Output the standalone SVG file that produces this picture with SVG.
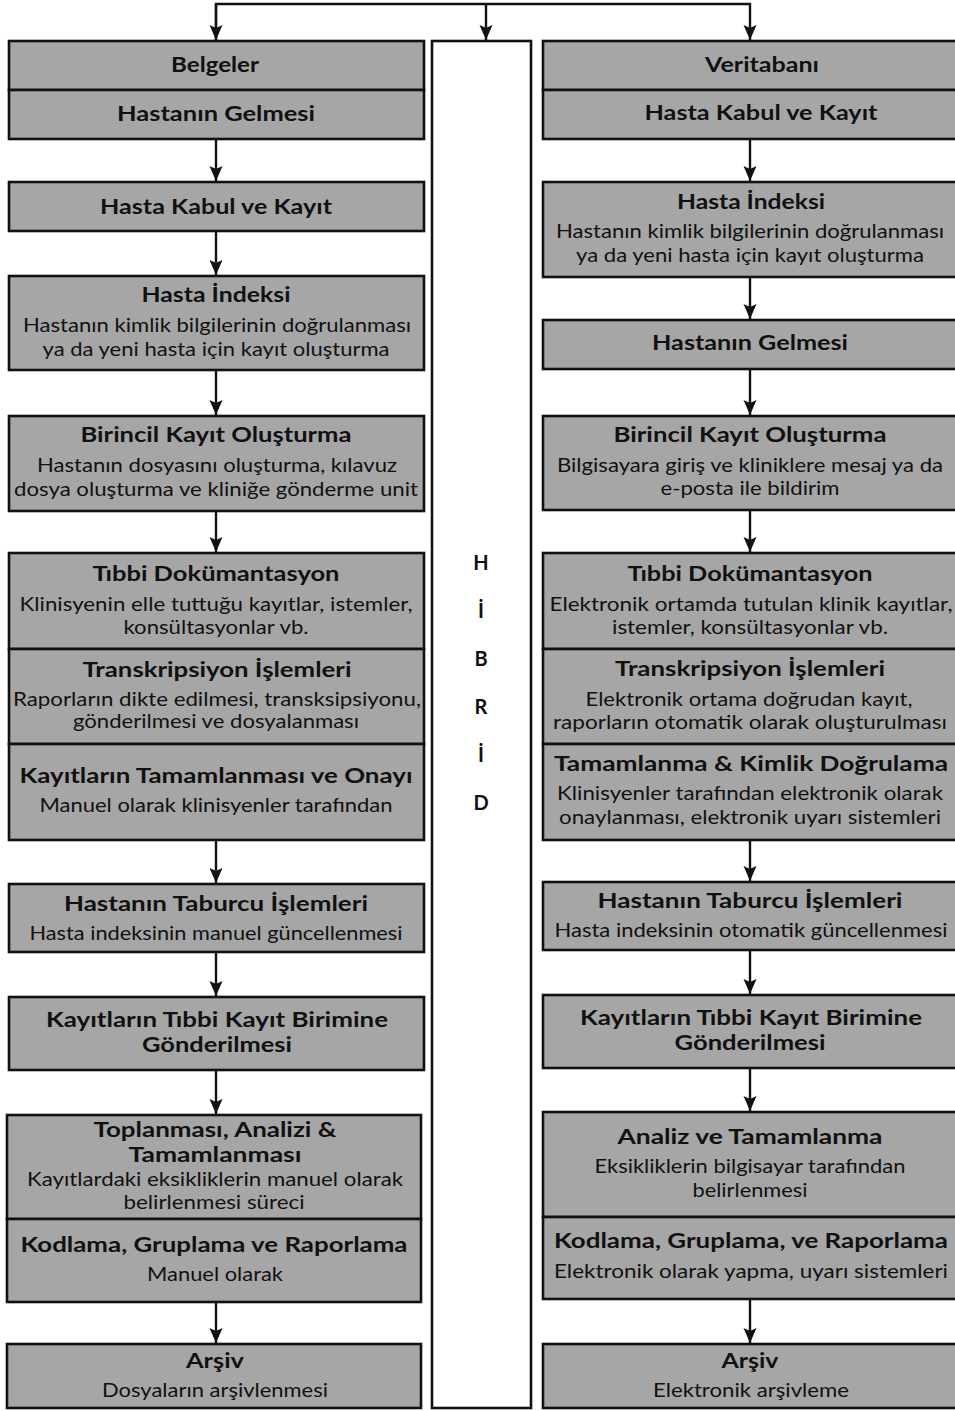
<svg xmlns="http://www.w3.org/2000/svg" width="955" height="1411" viewBox="0 0 955 1411">
<style>
.bx{fill:#a6a6a6;stroke:#111;stroke-width:2.6}
.mid{fill:#fff;stroke:#111;stroke-width:2.6}
.t{font-family:Lato,"Liberation Sans",sans-serif;font-weight:bold;font-size:20px;fill:#111;text-anchor:middle}
.s{font-family:Lato,"Liberation Sans",sans-serif;font-size:20px;fill:#111;text-anchor:middle}
.c{fill:none;stroke:#111;stroke-width:2.4}
</style>
<defs>
<marker id="ah" markerUnits="userSpaceOnUse" markerWidth="16" markerHeight="14" refX="15" refY="7" orient="auto">
<path d="M0,0.5 L15,7 L0,13.5 L3,7 Z" fill="#111"/>
</marker>
</defs>
<rect width="955" height="1411" fill="#fff"/>

<g id="connectors">
<path class="c" d="M216,40 V4 H750 V40" marker-end="url(#ah)"/>
<path class="c" d="M486,4 V40" marker-end="url(#ah)"/>
<path class="c" d="M216,4 V40" marker-end="url(#ah)"/>
<path class="c" d="M216,140 V181" marker-end="url(#ah)"/>
<path class="c" d="M216,232 V275" marker-end="url(#ah)"/>
<path class="c" d="M216,371 V415" marker-end="url(#ah)"/>
<path class="c" d="M216,512 V552" marker-end="url(#ah)"/>
<path class="c" d="M216,841 V883" marker-end="url(#ah)"/>
<path class="c" d="M216,953 V996" marker-end="url(#ah)"/>
<path class="c" d="M216,1071 V1114" marker-end="url(#ah)"/>
<path class="c" d="M216,1303 V1343" marker-end="url(#ah)"/>
<path class="c" d="M750,140 V181" marker-end="url(#ah)"/>
<path class="c" d="M750,278 V319" marker-end="url(#ah)"/>
<path class="c" d="M750,370 V415" marker-end="url(#ah)"/>
<path class="c" d="M750,511 V552" marker-end="url(#ah)"/>
<path class="c" d="M750,841 V881" marker-end="url(#ah)"/>
<path class="c" d="M750,951 V994" marker-end="url(#ah)"/>
<path class="c" d="M750,1069 V1111" marker-end="url(#ah)"/>
<path class="c" d="M750,1300 V1343" marker-end="url(#ah)"/>
</g>

<g id="hibrid">
<rect class="mid" x="432" y="41" width="99" height="1367"/>
<text class="t" x="481" y="570">H</text>
<text class="t" x="481" y="618">İ</text>
<text class="t" x="481" y="666">B</text>
<text class="t" x="481" y="714">R</text>
<text class="t" x="481" y="762">İ</text>
<text class="t" x="481" y="810">D</text>
</g>

<!-- LEFT COLUMN -->
<g id="L-belgeler">
<rect class="bx" x="9" y="41" width="415" height="49"/>
<text class="t" x="215" y="72" textLength="88" lengthAdjust="spacingAndGlyphs">Belgeler</text>
</g>
<g id="L-gelmesi">
<rect class="bx" x="9" y="90" width="415" height="49"/>
<text class="t" x="216" y="121" textLength="198" lengthAdjust="spacingAndGlyphs">Hastanın Gelmesi</text>
</g>
<g id="L-kabul">
<rect class="bx" x="9" y="182" width="415" height="49"/>
<text class="t" x="216" y="214" textLength="232" lengthAdjust="spacingAndGlyphs">Hasta Kabul ve Kayıt</text>
</g>
<g id="L-indeks">
<rect class="bx" x="9" y="276" width="415" height="94"/>
<text class="t" x="216" y="302" textLength="149" lengthAdjust="spacingAndGlyphs">Hasta İndeksi</text>
<text class="s" x="217" y="332" textLength="388" lengthAdjust="spacingAndGlyphs">Hastanın kimlik bilgilerinin doğrulanması</text>
<text class="s" x="216" y="356" textLength="347" lengthAdjust="spacingAndGlyphs">ya da yeni hasta için kayıt oluşturma</text>
</g>
<g id="L-birincil">
<rect class="bx" x="9" y="416" width="415" height="95"/>
<text class="t" x="216" y="442" textLength="271" lengthAdjust="spacingAndGlyphs">Birincil Kayıt Oluşturma</text>
<text class="s" x="217" y="472" textLength="360" lengthAdjust="spacingAndGlyphs">Hastanın dosyasını oluşturma, kılavuz</text>
<text class="s" x="216" y="496" textLength="404" lengthAdjust="spacingAndGlyphs">dosya oluşturma ve kliniğe gönderme unit</text>
</g>
<g id="L-tibbi">
<rect class="bx" x="9" y="553" width="415" height="96"/>
<text class="t" x="216" y="581" textLength="247" lengthAdjust="spacingAndGlyphs">Tıbbi Dokümantasyon</text>
<text class="s" x="216" y="611" textLength="393" lengthAdjust="spacingAndGlyphs">Klinisyenin elle tuttuğu kayıtlar, istemler,</text>
<text class="s" x="216" y="634" textLength="185" lengthAdjust="spacingAndGlyphs">konsültasyonlar vb.</text>
</g>
<g id="L-transkripsiyon">
<rect class="bx" x="9" y="649" width="415" height="95"/>
<text class="t" x="217" y="677" textLength="269" lengthAdjust="spacingAndGlyphs">Transkripsiyon İşlemleri</text>
<text class="s" x="217" y="706" textLength="408" lengthAdjust="spacingAndGlyphs">Raporların dikte edilmesi, transksipsiyonu,</text>
<text class="s" x="216" y="728" textLength="286" lengthAdjust="spacingAndGlyphs">gönderilmesi ve dosyalanması</text>
</g>
<g id="L-tamamlanma">
<rect class="bx" x="9" y="744" width="415" height="96"/>
<text class="t" x="216" y="783" textLength="393" lengthAdjust="spacingAndGlyphs">Kayıtların Tamamlanması ve Onayı</text>
<text class="s" x="216" y="812" textLength="353" lengthAdjust="spacingAndGlyphs">Manuel olarak klinisyenler tarafından</text>
</g>
<g id="L-taburcu">
<rect class="bx" x="9" y="884" width="415" height="68"/>
<text class="t" x="216" y="911" textLength="304" lengthAdjust="spacingAndGlyphs">Hastanın Taburcu İşlemleri</text>
<text class="s" x="216" y="940" textLength="373" lengthAdjust="spacingAndGlyphs">Hasta indeksinin manuel güncellenmesi</text>
</g>
<g id="L-gonderim">
<rect class="bx" x="9" y="997" width="415" height="73"/>
<text class="t" x="217" y="1027" textLength="342" lengthAdjust="spacingAndGlyphs">Kayıtların Tıbbi Kayıt Birimine</text>
<text class="t" x="217" y="1052" textLength="150" lengthAdjust="spacingAndGlyphs">Gönderilmesi</text>
</g>
<g id="L-analiz">
<rect class="bx" x="7" y="1115" width="414" height="104"/>
<text class="t" x="215" y="1137" textLength="243" lengthAdjust="spacingAndGlyphs">Toplanması, Analizi &amp;</text>
<text class="t" x="215" y="1162" textLength="173" lengthAdjust="spacingAndGlyphs">Tamamlanması</text>
<text class="s" x="215" y="1186" textLength="376" lengthAdjust="spacingAndGlyphs">Kayıtlardaki eksikliklerin manuel olarak</text>
<text class="s" x="214" y="1209" textLength="181" lengthAdjust="spacingAndGlyphs">belirlenmesi süreci</text>
</g>
<g id="L-kodlama">
<rect class="bx" x="7" y="1219" width="414" height="83"/>
<text class="t" x="214" y="1252" textLength="387" lengthAdjust="spacingAndGlyphs">Kodlama, Gruplama ve Raporlama</text>
<text class="s" x="215" y="1281" textLength="136" lengthAdjust="spacingAndGlyphs">Manuel olarak</text>
</g>
<g id="L-arsiv">
<rect class="bx" x="7" y="1344" width="414" height="64"/>
<text class="t" x="215" y="1368" textLength="58" lengthAdjust="spacingAndGlyphs">Arşiv</text>
<text class="s" x="215" y="1397" textLength="226" lengthAdjust="spacingAndGlyphs">Dosyaların arşivlenmesi</text>
</g>

<!-- RIGHT COLUMN -->
<g id="R-veritabani">
<rect class="bx" x="543" y="41" width="420" height="49"/>
<text class="t" x="762" y="72" textLength="114" lengthAdjust="spacingAndGlyphs">Veritabanı</text>
</g>
<g id="R-kabul">
<rect class="bx" x="543" y="90" width="420" height="49"/>
<text class="t" x="761" y="120" textLength="233" lengthAdjust="spacingAndGlyphs">Hasta Kabul ve Kayıt</text>
</g>
<g id="R-indeks">
<rect class="bx" x="543" y="182" width="420" height="95"/>
<text class="t" x="751" y="209" textLength="148" lengthAdjust="spacingAndGlyphs">Hasta İndeksi</text>
<text class="s" x="750" y="238" textLength="388" lengthAdjust="spacingAndGlyphs">Hastanın kimlik bilgilerinin doğrulanması</text>
<text class="s" x="750" y="262" textLength="348" lengthAdjust="spacingAndGlyphs">ya da yeni hasta için kayıt oluşturma</text>
</g>
<g id="R-gelmesi">
<rect class="bx" x="543" y="320" width="420" height="49"/>
<text class="t" x="750" y="350" textLength="196" lengthAdjust="spacingAndGlyphs">Hastanın Gelmesi</text>
</g>
<g id="R-birincil">
<rect class="bx" x="543" y="416" width="420" height="94"/>
<text class="t" x="750" y="442" textLength="273" lengthAdjust="spacingAndGlyphs">Birincil Kayıt Oluşturma</text>
<text class="s" x="750" y="472" textLength="386" lengthAdjust="spacingAndGlyphs">Bilgisayara giriş ve kliniklere mesaj ya da</text>
<text class="s" x="750" y="495" textLength="179" lengthAdjust="spacingAndGlyphs">e-posta ile bildirim</text>
</g>
<g id="R-tibbi">
<rect class="bx" x="543" y="553" width="420" height="96"/>
<text class="t" x="750" y="581" textLength="245" lengthAdjust="spacingAndGlyphs">Tıbbi Dokümantasyon</text>
<text class="s" x="751" y="611" textLength="403" lengthAdjust="spacingAndGlyphs">Elektronik ortamda tutulan klinik kayıtlar,</text>
<text class="s" x="750" y="634" textLength="276" lengthAdjust="spacingAndGlyphs">istemler, konsültasyonlar vb.</text>
</g>
<g id="R-transkripsiyon">
<rect class="bx" x="543" y="649" width="420" height="95"/>
<text class="t" x="750" y="676" textLength="270" lengthAdjust="spacingAndGlyphs">Transkripsiyon İşlemleri</text>
<text class="s" x="749" y="706" textLength="327" lengthAdjust="spacingAndGlyphs">Elektronik ortama doğrudan kayıt,</text>
<text class="s" x="750" y="729" textLength="394" lengthAdjust="spacingAndGlyphs">raporların otomatik olarak oluşturulması</text>
</g>
<g id="R-tamamlanma">
<rect class="bx" x="543" y="744" width="420" height="96"/>
<text class="t" x="751" y="771" textLength="394" lengthAdjust="spacingAndGlyphs">Tamamlanma &amp; Kimlik Doğrulama</text>
<text class="s" x="750" y="800" textLength="386" lengthAdjust="spacingAndGlyphs">Klinisyenler tarafından elektronik olarak</text>
<text class="s" x="750" y="824" textLength="382" lengthAdjust="spacingAndGlyphs">onaylanması, elektronik uyarı sistemleri</text>
</g>
<g id="R-taburcu">
<rect class="bx" x="543" y="882" width="420" height="68"/>
<text class="t" x="750" y="908" textLength="305" lengthAdjust="spacingAndGlyphs">Hastanın Taburcu İşlemleri</text>
<text class="s" x="751" y="937" textLength="393" lengthAdjust="spacingAndGlyphs">Hasta indeksinin otomatik güncellenmesi</text>
</g>
<g id="R-gonderim">
<rect class="bx" x="543" y="995" width="420" height="73"/>
<text class="t" x="751" y="1025" textLength="342" lengthAdjust="spacingAndGlyphs">Kayıtların Tıbbi Kayıt Birimine</text>
<text class="t" x="750" y="1050" textLength="151" lengthAdjust="spacingAndGlyphs">Gönderilmesi</text>
</g>
<g id="R-analiz">
<rect class="bx" x="543" y="1112" width="420" height="105"/>
<text class="t" x="750" y="1144" textLength="265" lengthAdjust="spacingAndGlyphs">Analiz ve Tamamlanma</text>
<text class="s" x="750" y="1173" textLength="311" lengthAdjust="spacingAndGlyphs">Eksikliklerin bilgisayar tarafından</text>
<text class="s" x="750" y="1197" textLength="115" lengthAdjust="spacingAndGlyphs">belirlenmesi</text>
</g>
<g id="R-kodlama">
<rect class="bx" x="543" y="1217" width="420" height="82"/>
<text class="t" x="751" y="1248" textLength="394" lengthAdjust="spacingAndGlyphs">Kodlama, Gruplama, ve Raporlama</text>
<text class="s" x="751" y="1278" textLength="394" lengthAdjust="spacingAndGlyphs">Elektronik olarak yapma, uyarı sistemleri</text>
</g>
<g id="R-arsiv">
<rect class="bx" x="543" y="1344" width="420" height="64"/>
<text class="t" x="750" y="1368" textLength="57" lengthAdjust="spacingAndGlyphs">Arşiv</text>
<text class="s" x="751" y="1397" textLength="196" lengthAdjust="spacingAndGlyphs">Elektronik arşivleme</text>
</g>
</svg>
